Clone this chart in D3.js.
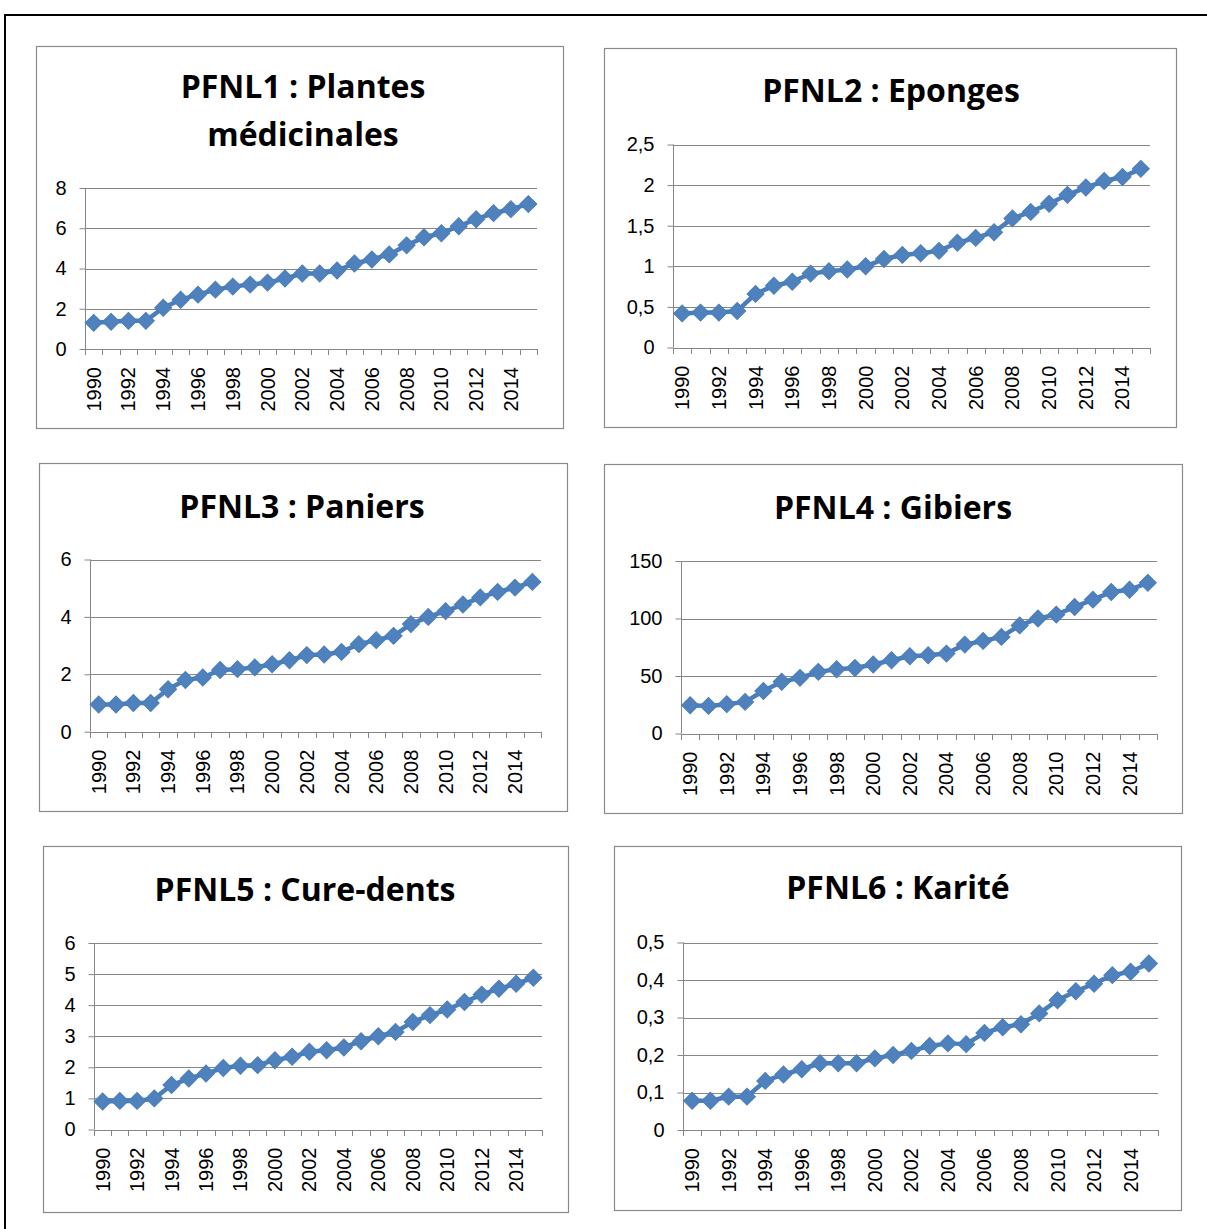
<!DOCTYPE html>
<html>
<head>
<meta charset="utf-8">
<script src="https://cdn.jsdelivr.net/npm/d3@7"></script>
<style>
  html, body { margin: 0; padding: 0; background: #ffffff; }
  svg { display: block; }
</style>
</head>
<body>
<svg id="chart" width="1207" height="1229"></svg>
<script>
// ---------- DATA ----------
const years = [1990,1991,1992,1993,1994,1995,1996,1997,1998,1999,2000,2001,2002,
               2003,2004,2005,2006,2007,2008,2009,2010,2011,2012,2013,2014,2015];
const yearLabels = ["1990","1992","1994","1996","1998","2000","2002","2004","2006","2008","2010","2012","2014"];

const titles = [
  ["PFNL1 : Plantes", "médicinales"],
  ["PFNL2 : Eponges"],
  ["PFNL3 : Paniers"],
  ["PFNL4 : Gibiers"],
  ["PFNL5 : Cure-dents"],
  ["PFNL6 : Karité"]
];

const pfnl1 = [1.3,1.35,1.4,1.4,2.05,2.45,2.7,2.95,3.1,3.2,3.3,3.5,3.75,3.75,3.9,4.25,4.45,4.7,5.15,5.55,5.75,6.1,6.45,6.75,6.95,7.2];
const pfnl2 = [0.42,0.43,0.43,0.45,0.66,0.76,0.81,0.91,0.94,0.96,1.0,1.09,1.14,1.16,1.19,1.29,1.35,1.42,1.59,1.67,1.77,1.88,1.97,2.05,2.1,2.2];
const pfnl3 = [0.95,0.95,1.0,1.0,1.48,1.8,1.89,2.15,2.18,2.24,2.35,2.49,2.67,2.69,2.78,3.05,3.19,3.34,3.75,4.0,4.2,4.43,4.68,4.87,5.02,5.22];
const pfnl4 = [24.6,24,25.5,27.5,37,45,48.4,53.6,55.9,57,60,63.7,67.2,68,69.5,77.3,80.5,84,94,100,103.4,110,116.4,123,125,131];
const pfnl5 = [0.9,0.92,0.92,1.0,1.43,1.64,1.8,1.98,2.05,2.07,2.23,2.34,2.5,2.55,2.64,2.84,3.0,3.14,3.46,3.68,3.86,4.1,4.34,4.53,4.69,4.88];
const pfnl6 = [0.078,0.078,0.089,0.089,0.131,0.148,0.162,0.178,0.178,0.178,0.191,0.2,0.211,0.224,0.231,0.229,0.259,0.274,0.282,0.311,0.346,0.37,0.39,0.413,0.422,0.444];

const yTicks1 = [0,2,4,6,8];
const yTicks2 = [0,0.5,1,1.5,2,2.5];
const yTicks3 = [0,2,4,6];
const yTicks4 = [0,50,100,150];
const yTicks5 = [0,1,2,3,4,5,6];
const yTicks6 = [0,0.1,0.2,0.3,0.4,0.5];

const seriesList = [pfnl1, pfnl2, pfnl3, pfnl4, pfnl5, pfnl6];
const tickList = [yTicks1, yTicks2, yTicks3, yTicks4, yTicks5, yTicks6];

// ---------- LAYOUT ----------
const layout = [
  {box:[36,46,563,428],   plot:[85,537,188,349],     title:[303,98],  lh:48},
  {box:[604,48,1176,427], plot:[673,1150,144.5,347.5], title:[891,102], lh:0},
  {box:[39,463,567,811],  plot:[90,541,559.5,731.7], title:[302,518], lh:0},
  {box:[604,464,1182,813],plot:[681,1157,561,733.5], title:[893,519], lh:0},
  {box:[43,846,568,1212], plot:[94,542,943,1129.5],  title:[305,901], lh:0},
  {box:[614,846,1181,1210],plot:[683,1158,942.5,1130], title:[898,899], lh:0}
];

const gridColor = "#868686";
const lineColor = "#4A7EBB";
const markColor = "#4F81BD";
const tickFont = "'Liberation Sans', Arial, sans-serif";
const titleFont = "'Open Sans', Lato, sans-serif";

const svg = d3.select("#chart");

// outer frame
svg.append("path")
  .attr("d", "M5,1229 L5,15 L1207,15")
  .attr("fill", "none").attr("stroke", "#000").attr("stroke-width", 2);

const fmt = v => String(v).replace(".", ",");

layout.forEach((L, i) => {
  const data = seriesList[i];
  const ticks = tickList[i];
  const [bx0, by0, bx1, by1] = L.box;
  const [px0, px1, pyTop, pyBot] = L.plot;

  const g = svg.append("g");

  // chart box
  g.append("rect")
    .attr("x", bx0 + 0.5).attr("y", by0 + 0.5)
    .attr("width", bx1 - bx0).attr("height", by1 - by0)
    .attr("fill", "#fff").attr("stroke", "#8a8a8a").attr("stroke-width", 1.2);

  const x = d3.scaleBand().domain(years).range([px0, px1]).padding(0);
  const y = d3.scaleLinear().domain([0, d3.max(ticks)]).range([pyBot, pyTop]);

  // gridlines
  g.append("g").selectAll("line").data(ticks.filter(t => t !== 0)).join("line")
    .attr("x1", px0).attr("x2", px1)
    .attr("y1", d => Math.round(y(d)) + 0.5).attr("y2", d => Math.round(y(d)) + 0.5)
    .attr("stroke", gridColor).attr("stroke-width", 1);

  // y axis
  const yAxis = d3.axisLeft(y).tickValues(ticks).tickSize(6).tickPadding(13).tickFormat(fmt);
  const ya = g.append("g").attr("transform", `translate(${Math.round(px0) + 0.5},0)`).call(yAxis);
  ya.select(".domain").attr("stroke", gridColor).attr("d", `M-0,${pyTop}V${pyBot}`);
  ya.selectAll(".tick line").attr("stroke", gridColor);
  ya.selectAll(".tick text")
    .attr("font-family", tickFont).attr("font-size", 20).attr("fill", "#000");

  // x axis (ticks at category boundaries)
  const boundaries = years.map(yr => x(yr)).concat([x(years[years.length - 1]) + x.bandwidth()]);
  const xb = g.append("g");
  xb.append("line")
    .attr("x1", px0).attr("x2", px1)
    .attr("y1", Math.round(pyBot) + 0.5).attr("y2", Math.round(pyBot) + 0.5)
    .attr("stroke", gridColor);
  xb.selectAll("line.tk").data(boundaries).join("line").attr("class", "tk")
    .attr("x1", d => Math.round(d) + 0.5).attr("x2", d => Math.round(d) + 0.5)
    .attr("y1", Math.round(pyBot)).attr("y2", Math.round(pyBot) + 6)
    .attr("stroke", gridColor);
  xb.selectAll("text").data(yearLabels).join("text")
    .attr("transform", d => `translate(${x(+d) + x.bandwidth() / 2},${pyBot + 18}) rotate(-90)`)
    .attr("text-anchor", "end").attr("dy", "0.35em")
    .attr("font-family", tickFont).attr("font-size", 20).attr("fill", "#000")
    .text(d => d);

  // line
  const line = d3.line().x((d, j) => x(years[j]) + x.bandwidth() / 2).y(d => y(d));
  g.append("path").datum(data)
    .attr("d", line).attr("fill", "none")
    .attr("stroke", lineColor).attr("stroke-width", 4.5).attr("stroke-linejoin", "round");

  // markers
  const sym = d3.symbol().type(d3.symbolSquare).size(144);
  g.append("g").selectAll("path").data(data).join("path")
    .attr("transform", (d, j) => `translate(${x(years[j]) + x.bandwidth() / 2},${y(d)}) rotate(45)`)
    .attr("d", sym).attr("fill", markColor).attr("stroke", lineColor).attr("stroke-width", 1);

  // title
  const t = g.append("text")
    .attr("x", L.title[0]).attr("y", L.title[1])
    .attr("text-anchor", "middle")
    .attr("font-family", titleFont).attr("font-weight", "bold").attr("font-size", 32).attr("fill", "#000");
  titles[i].forEach((s, k) => {
    t.append("tspan").attr("x", L.title[0]).attr("dy", k === 0 ? 0 : L.lh).text(s);
  });
});
</script>
</body>
</html>
